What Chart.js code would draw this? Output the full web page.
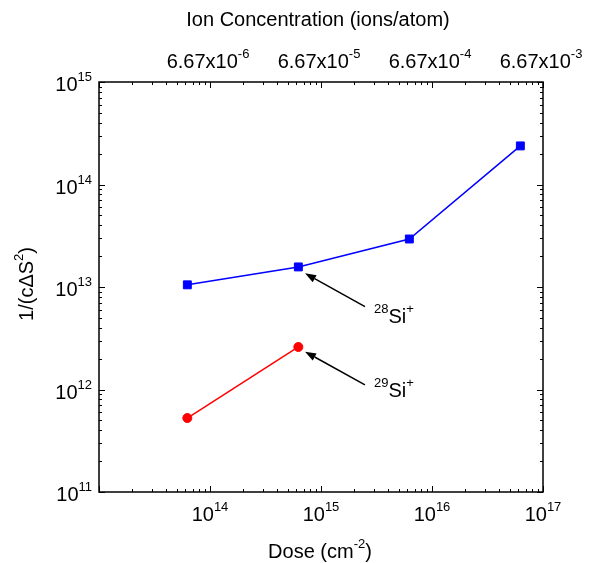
<!DOCTYPE html>
<html><head><meta charset="utf-8">
<script src="https://cdn.jsdelivr.net/npm/chart.js@4"></script>
<style>html,body{margin:0;padding:0;background:#fff}#wrap{width:598px;height:563px}</style>
</head><body><div id="wrap"><canvas id="c" width="598" height="563"></canvas></div>
<script>
// ---- data ----
const doses28 = [6.25e13, 6.25e14, 6.25e15, 6.25e16];
const si28 = [1.05e13, 1.57e13, 2.94e13, 2.38e14];
const doses29 = [6.25e13, 6.25e14];
const si29 = [5.27e11, 2.6e12];
const xTickExponents = [14, 15, 16, 17];          // bottom: 10^n
const yTickExponents = [11, 12, 13, 14, 15];      // left: 10^n
const topTickValues = [6.67e-6, 6.67e-5, 6.67e-4, 6.67e-3];
const topTickMantissa = ['6.67x10', '6.67x10', '6.67x10', '6.67x10'];
const topTickExponents = ['-6', '-5', '-4', '-3'];
// annotations (data coordinates)
const arrows = [
  {from: [2.49e15, 6.43e12], to: [7.18e14, 1.36e13]},
  {from: [2.49e15, 1.11e12], to: [7.18e14, 2.34e12]}
];
const notes = [
  {pre: '28', base: 'Si', post: '+', at: [3.0e15, 4.46e12]},
  {pre: '29', base: 'Si', post: '+', at: [3.0e15, 8.45e11]}
];

const FONT = '"Liberation Sans", Arial, sans-serif';
const F_MAIN = '20px ' + FONT;
const F_SUP = '13px ' + FONT;

function drawRich(ctx, parts, x, y, align) {
  // parts: [{t, sup}]
  let w = 0;
  parts.forEach(p => { ctx.font = p.sup ? F_SUP : F_MAIN; p.w = ctx.measureText(p.t).width; w += p.w; });
  let cx = align === 'center' ? x - w / 2 : (align === 'right' ? x - w : x);
  ctx.textAlign = 'left'; ctx.textBaseline = 'alphabetic';
  parts.forEach(p => {
    ctx.font = p.sup ? F_SUP : F_MAIN;
    ctx.fillText(p.t, cx, p.sup ? y - 10 : y);
    cx += p.w;
  });
}

function decadeTicks(lo, hi) {
  const out = [];
  for (let e = lo; e < hi; e++) for (let m = 1; m < 10; m++) out.push({v: m * Math.pow(10, e), major: m === 1});
  out.push({v: Math.pow(10, hi), major: true});
  return out;
}

const deco = {
  id: 'deco',
  afterDraw(chart) {
    const {ctx, chartArea: a, scales} = chart;
    const x = scales.x, y = scales.y, xt = scales.xTop;
    ctx.save();
    ctx.strokeStyle = '#000'; ctx.fillStyle = '#000';
    ctx.lineWidth = 1.5;
    ctx.strokeRect(a.left, a.top, a.right - a.left, a.bottom - a.top);
    ctx.lineWidth = 1;
    // x ticks (bottom & top) inward
    decadeTicks(13, 17).forEach(t => {
      const px = Math.round(x.getPixelForValue(t.v)) + 0.5;
      const L = t.major ? 6 : 3;
      ctx.beginPath();
      ctx.moveTo(px, a.bottom); ctx.lineTo(px, a.bottom - L);
      ctx.moveTo(px, a.top); ctx.lineTo(px, a.top + L);
      ctx.stroke();
    });
    decadeTicks(11, 15).forEach(t => {
      const py = Math.round(y.getPixelForValue(t.v)) + 0.5;
      const L = t.major ? 6 : 3;
      ctx.beginPath();
      ctx.moveTo(a.left, py); ctx.lineTo(a.left + L, py);
      ctx.moveTo(a.right, py); ctx.lineTo(a.right - L, py);
      ctx.stroke();
    });
    // bottom labels
    xTickExponents.forEach(e => {
      const px = x.getPixelForValue(Math.pow(10, e));
      drawRich(ctx, [{t: '10'}, {t: String(e), sup: true}], px, 521, 'center');
    });
    // left labels
    yTickExponents.forEach(e => {
      const py = y.getPixelForValue(Math.pow(10, e));
      drawRich(ctx, [{t: '10'}, {t: String(e), sup: true}], 92, py + 9, 'right');
    });
    // top labels
    topTickValues.forEach((v, i) => {
      const px = xt.getPixelForValue(v);
      drawRich(ctx, [{t: topTickMantissa[i]}, {t: topTickExponents[i], sup: true}], px - 2, 68, 'center');
    });
    // titles
    drawRich(ctx, [{t: 'Ion Concentration (ions/atom)'}], 318, 26, 'center');
    drawRich(ctx, [{t: 'Dose (cm'}, {t: '-2', sup: true}, {t: ')'}], 320, 558, 'center');
    ctx.save();
    ctx.translate(33, 284); ctx.rotate(-Math.PI / 2);
    drawRich(ctx, [{t: '1/(c\u0394S'}, {t: '2', sup: true}, {t: ')'}], 0, 0, 'center');
    ctx.restore();
    // arrows
    arrows.forEach(ar => {
      const x0 = x.getPixelForValue(ar.from[0]), y0 = y.getPixelForValue(ar.from[1]);
      const x1 = x.getPixelForValue(ar.to[0]), y1 = y.getPixelForValue(ar.to[1]);
      const ang = Math.atan2(y1 - y0, x1 - x0);
      const hl = 11, hw = 4;
      const bx = x1 - hl * Math.cos(ang), by = y1 - hl * Math.sin(ang);
      ctx.lineWidth = 1.5;
      ctx.beginPath(); ctx.moveTo(x0, y0); ctx.lineTo(bx, by); ctx.stroke();
      ctx.beginPath();
      ctx.moveTo(x1, y1);
      ctx.lineTo(bx + hw * Math.sin(ang), by - hw * Math.cos(ang));
      ctx.lineTo(bx - hw * Math.sin(ang), by + hw * Math.cos(ang));
      ctx.closePath(); ctx.fill();
    });
    notes.forEach(n => {
      const px = x.getPixelForValue(n.at[0]), py = y.getPixelForValue(n.at[1]);
      drawRich(ctx, [{t: n.pre, sup: true}, {t: n.base}, {t: n.post, sup: true}], px, py, 'left');
    });
    ctx.restore();
  }
};

new Chart(document.getElementById('c'), {
  type: 'line',
  data: {
    datasets: [
      {label: '28Si+', data: doses28.map((d, i) => ({x: d, y: si28[i]})),
       borderColor: '#0000ff', backgroundColor: '#0000ff', borderWidth: 1.5,
       pointStyle: 'rect', pointRadius: 5.6, pointBorderWidth: 1, tension: 0},
      {label: '29Si+', data: doses29.map((d, i) => ({x: d, y: si29[i]})),
       borderColor: '#ff0000', backgroundColor: '#ff0000', borderWidth: 1.5,
       pointStyle: 'circle', pointRadius: 4.5, pointBorderWidth: 1, tension: 0}
    ]
  },
  options: {
    responsive: false, animation: false, devicePixelRatio: 1,
    layout: {padding: {left: 99, right: 55, top: 82, bottom: 71}},
    plugins: {legend: {display: false}, tooltip: {enabled: false}},
    scales: {
      x: {type: 'logarithmic', min: 1e13, max: 1e17, display: false},
      xTop: {type: 'logarithmic', position: 'top', min: 6.67e-7, max: 6.67e-3, display: false},
      y: {type: 'logarithmic', min: 1e11, max: 1e15, display: false}
    }
  },
  plugins: [deco]
});
</script></body></html>
